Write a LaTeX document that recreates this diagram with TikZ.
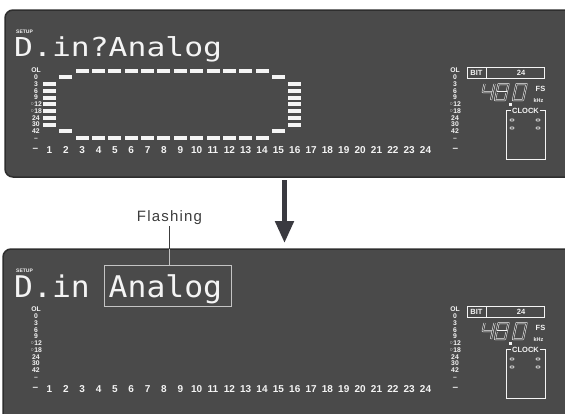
\documentclass[tikz,border=0pt]{standalone}
\usepackage{fontspec}
\setmainfont{Liberation Sans}
\newfontfamily\lcdfont{DejaVu Sans Mono}
\newfontfamily\symfont{DejaVu Sans}
\newfontfamily\tagfont[LetterSpace=8]{Liberation Sans}
\usetikzlibrary{arrows.meta}

\definecolor{panelgray}{HTML}{4A4A4A}
\definecolor{paneledge}{HTML}{2E2E2E}
\definecolor{segwhite}{HTML}{F4F4F4}
\definecolor{arrowgray}{HTML}{3A3A40}
\definecolor{boxgray}{HTML}{C4C4C4}
\definecolor{taggray}{HTML}{3C3C3C}

\tikzset{
  panel/.style={fill=panelgray, draw=paneledge, line width=1.5pt, rounded corners=8pt},
  lcdtext/.style={text=segwhite, font=\lcdfont\fontsize{31.4}{31.4}\selectfont, inner sep=0pt, anchor=base west},
  setuplbl/.style={text=segwhite, font=\bfseries\fontsize{5}{5}\selectfont, inner sep=0pt},
  scalelbl/.style={text=segwhite, font=\bfseries\fontsize{6.8}{6.8}\selectfont, inner sep=0pt,
    text height=4.6pt, text depth=0pt},
  chnum/.style={text=segwhite, font=\bfseries\fontsize{10}{10}\selectfont, inner sep=0pt},
  smalllbl/.style={text=segwhite, font=\bfseries\fontsize{7.5}{7.5}\selectfont, inner sep=0pt},
  tinylbl/.style={text=segwhite, font=\bfseries\fontsize{5.5}{5.5}\selectfont, inner sep=0pt},
  lcdline/.style={draw=segwhite, line width=0.6pt},
  lcdbox/.style={draw=segwhite, line width=0.6pt, inner sep=0pt},
  seg/.style={draw=segwhite, double=panelgray, double distance=1pt, line width=0.5pt, line join=round},
  bar/.style={fill=segwhite},
  flashbox/.style={draw=boxgray, line width=0.9pt, inner sep=0pt},
  tag/.style={text=taggray, font=\tagfont\fontsize{15}{15}\selectfont, inner sep=1pt},
  tagline/.style={draw=taggray, line width=0.8pt},
  bigarrow/.style={draw=arrowgray, line width=5pt, -{Triangle[width=18pt,length=22pt]}},
}

\begin{document}
\begin{tikzpicture}[x=1pt,y=-1pt]
\useasboundingbox (0,0) rectangle (565,413);
\clip (0,0) rectangle (565,413);

\coordinate (arrtop) at (284.5,180);
\coordinate (arrtip) at (284.5,243);
\draw[bigarrow] (arrtop) -- (arrtip);

\node[tag] (flash) at (169.5,218) {Flashing};

\draw[panel] (5,10) rectangle (590,177);
\draw[panel] (3,249) rectangle (590,440);

\foreach \p/\dy in {top/0,bot/239}{
\begin{scope}[yshift=-\dy pt]
  \node[setuplbl] (setup-\p) at (24.5,31.5) {SETUP};
  \foreach \lbl [count=\k from 0] in {OL,0,3,6,9,{{\symfont◦}12},{{\symfont◦}18},24,30,42,–}{
    \node[scalelbl] (ls-\k-\p) at (36,{70.5+6.75*\k}) {\lbl};
    \node[scalelbl] (rs-\k-\p) at (455,{70.5+6.75*\k}) {\lbl};
  }
  \node[chnum] (chd-\p) at (35.5,150) {–};
  \foreach \c in {1,...,24}
    \node[chnum] (ch-\c-\p) at ({49.5+(\c-1)*16.35},150) {\c};
  \node[chnum] (rchd-\p) at (455.5,150) {–};

  % bit depth
  \node[lcdbox, minimum width=77pt, minimum height=10.5pt] (bit-\p) at (505.5,73) {};
  \draw[lcdline] ([xshift=19.5pt]bit-\p.north west) -- ([xshift=19.5pt]bit-\p.south west);
  \node[smalllbl] (bitlbl-\p) at (476.5,73.3) {BIT};
  \node[smalllbl] (bitval-\p) at (521,73.3) {24};

  % sampling rate
  \begin{scope}[shift={(480,100)},xslant=0.22]
    \draw[seg] (1,-16) -- (1,-8) -- (10,-8);
    \draw[seg] (11,-16) -- (11,0);
    \draw[seg] (15,-16) rectangle (25,0);
    \draw[seg] (15,-8) -- (25,-8);
    \draw[seg] (33,-16) rectangle (43,0);
  \end{scope}
  \fill[segwhite] (509,103) rectangle (512,106);
  \node[smalllbl] (fs-\p) at (540.5,89) {FS};
  \node[tinylbl] (khz-\p) at (538.5,101) {kHz};

  % clock
  \draw[lcdline] (506,110) rectangle (545,159);
  \node[smalllbl, fill=panelgray, inner xsep=1pt, inner ysep=0.5pt] (clock-\p) at (525.5,110.5) {CLOCK};
  \foreach \cx in {512,538}
    \foreach \cy in {120,128}
      \draw[lcdline, rounded corners=0.8pt] ({\cx-2},{\cy-1}) rectangle ({\cx+2},{\cy+1});
\end{scope}
}

% top display
\node[lcdtext] (msg) at (14,56.5) {\scalebox{1}[0.83]{D.in?Analog}};
\foreach \c in {3,...,14}
  \foreach \k in {0,10}
    \fill[bar] ({49.5+(\c-1)*16.35-6.5},{70.5+6.75*\k-2}) rectangle +(13,4);
\foreach \c in {2,15}
  \foreach \k in {1,9}
    \fill[bar] ({49.5+(\c-1)*16.35-6.5},{70.5+6.75*\k-2}) rectangle +(13,4);
\foreach \c in {1,16}
  \foreach \k in {2,...,8}
    \fill[bar] ({49.5+(\c-1)*16.35-6.5},{70.5+6.75*\k-2}) rectangle +(13,4);

% bottom display
\node[lcdtext] (msgb) at (14,297) {\scalebox{1}[0.95]{D.in}};
\node[lcdtext] (analogtxt) at (108.5,297) {\scalebox{1}[0.95]{Analog}};
\node[flashbox, minimum width=127pt, minimum height=41pt] (analog) at (167.5,285.5) {};
\coordinate (pantop) at (169.5,249);
\draw[tagline] (flash.south) -- (pantop);
\draw[flashbox] (pantop) -- (pantop |- analog.north);
\end{tikzpicture}
\end{document}
